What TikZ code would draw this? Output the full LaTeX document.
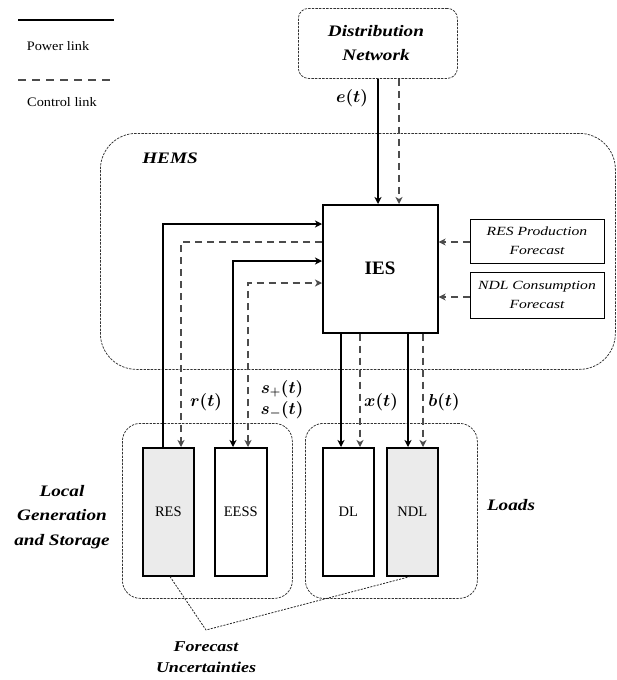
\documentclass[tikz,border=0pt]{standalone}
\usepackage{amsmath}
\usepackage{fontspec}
\setmainfont{Liberation Serif}
\newfontfamily\stretchfam[FakeStretch=1.2]{Liberation Serif}
\newfontfamily\itfam[FakeStretch=1.25]{Liberation Serif}
\newfontfamily\legfam[FakeStretch=1.1]{Liberation Serif}
\usetikzlibrary{arrows.meta,calc}
\tikzset{
  blk/.style={draw, line width=1.6pt, inner sep=0pt, anchor=north west},
  grp/.style={draw, black!80, line width=0.75pt, dash pattern=on 2.4pt off 1.2pt, inner sep=0pt, anchor=north west},
  pw/.style={line width=1.7pt, black},
  ct/.style={line width=1.5pt, black!70, dash pattern=on 7pt off 5pt},
  dotl/.style={line width=0.8pt, black!85, dash pattern=on 2pt off 1.3pt},
  tip/.style={-{Stealth[length=7pt,width=7pt,inset=2pt]}},
  tips/.style={{Stealth[length=7pt,width=7pt,inset=2pt]}-{Stealth[length=7pt,width=7pt,inset=2pt]}},
  bilab/.style={font=\stretchfam\fontsize{16}{24.5}\selectfont\bfseries\itshape, align=center, inner sep=0pt},
  itlab/.style={font=\itfam\fontsize{12.5}{19}\selectfont\itshape, align=center, inner sep=0pt},
  mlab/.style={font=\fontsize{17.5}{20}\selectfont, inner sep=0pt},
  leg/.style={font=\legfam\fontsize{13}{15}\selectfont, inner sep=0pt},
  boxlab/.style={font=\fontsize{14.5}{16}\selectfont, inner sep=0pt}
}
\begin{document}
\begin{tikzpicture}[x=1pt,y=-1pt]
\useasboundingbox (0,0) rectangle (617,680);

% legend
\coordinate (l1a) at (18,20); \coordinate (l1b) at (114,20);
\coordinate (l2a) at (18,80); \coordinate (l2b) at (110,80);
\draw[pw] (l1a) -- (l1b);
\draw[ct, dash pattern=on 8pt off 6pt] (l2a) -- (l2b);
\node[leg] (lpow) at (58,46) {Power link};
\node[leg] (lctl) at (62,102) {Control link};

% containers
\node[grp, rounded corners=10pt, minimum width=159pt, minimum height=70pt] (dn) at (298,8) {};
\node[bilab] (dnl) at (376,43) {Distribution\\Network};
\node[grp, rounded corners=36pt, minimum width=515pt, minimum height=236pt] (hems) at (100,133) {};
\node[bilab] (hemsl) at (170,158) {HEMS};
\node[grp, rounded corners=18pt, minimum width=170pt, minimum height=175pt] (lgs) at (122,423) {};
\node[grp, rounded corners=18pt, minimum width=172pt, minimum height=175pt] (lds) at (305,423) {};

% IES and forecasts
\node[blk, minimum width=115pt, minimum height=128pt] (ies) at (322,204) {};
\node[font=\fontsize{19}{20}\selectfont\bfseries, inner sep=0pt] (iesl) at (380,268) {IES};
\node[draw, line width=1pt, inner sep=0pt, anchor=north west, minimum width=134pt, minimum height=44pt] (rpf) at (470,219) {};
\node[itlab] (rpfl) at (537,241) {RES Production\\Forecast};
\node[draw, line width=1pt, inner sep=0pt, anchor=north west, minimum width=134pt, minimum height=46pt] (ncf) at (470,272) {};
\node[itlab] (ncfl) at (537,295) {NDL Consumption\\Forecast};

% devices
\node[blk, fill=black!8, minimum width=51pt, minimum height=128pt] (res) at (142,447) {};
\node[blk, minimum width=52pt, minimum height=128pt] (eess) at (214,447) {};
\node[blk, minimum width=51pt, minimum height=128pt] (dl) at (322,447) {};
\node[blk, fill=black!8, minimum width=51pt, minimum height=128pt] (ndl) at (386,447) {};
\node[boxlab] at (res.center) {RES};
\node[boxlab] at (eess.center) {EESS};
\node[boxlab] at (dl.center) {DL};
\node[boxlab] at (ndl.center) {NDL};

% helper coordinates
\coordinate (xe) at (378,0);
\coordinate (xec) at (399,0);
\coordinate (xr) at (163,224);
\coordinate (xrc) at (181,242);
\coordinate (xs) at (233,261);
\coordinate (xsc) at (248,283);
\coordinate (xd) at (341,0);
\coordinate (xdc) at (360,0);
\coordinate (xn) at (408,0);
\coordinate (xnc) at (423,0);
\coordinate (yf1) at (0,242);
\coordinate (yf2) at (0,297);
\coordinate (fres) at (170,0);
\coordinate (fndl) at (410,0);
\coordinate (fu) at (206,630);

% connectors
\draw[pw, tip] (dn.south -| xe) -- (ies.north -| xe);
\draw[ct, tip] (dn.south -| xec) -- (ies.north -| xec);
\draw[pw, tip] (res.north -| xr) -- (xr) -- (ies.west |- xr);
\draw[ct, tip] (ies.west |- xrc) -- (xrc) -- (res.north -| xrc);
\draw[pw, tips] (eess.north -| xs) -- (xs) -- (ies.west |- xs);
\draw[ct, tips] (eess.north -| xsc) -- (xsc) -- (ies.west |- xsc);
\draw[pw, tip] (ies.south -| xd) -- (dl.north -| xd);
\draw[ct, tip] (ies.south -| xdc) -- (dl.north -| xdc);
\draw[pw, tip] (ies.south -| xn) -- (ndl.north -| xn);
\draw[ct, tip] (ies.south -| xnc) -- (ndl.north -| xnc);
\draw[ct, tip] (rpf.west |- yf1) -- (ies.east |- yf1);
\draw[ct, tip] (ncf.west |- yf2) -- (ies.east |- yf2);
\draw[dotl] (res.south -| fres) -- (fu) -- (ndl.south -| fndl);

% labels
\node[mlab] (el) at (352,98) {$\boldsymbol{e(t)}$};
\node[mlab] (rl) at (206,402) {$\boldsymbol{r(t)}$};
\node[mlab] (spl) at (282,389) {$\boldsymbol{s_{+}(t)}$};
\node[mlab] (sml) at (282,410) {$\boldsymbol{s_{-}(t)}$};
\node[mlab] (xl) at (381,402) {$\boldsymbol{x(t)}$};
\node[mlab] (bl) at (444,402) {$\boldsymbol{b(t)}$};
\node[bilab] (lgsl) at (62,517) {Local\\Generation\\and Storage};
\node[bilab] (ldsl) at (511,505) {Loads};
\node[bilab, font=\stretchfam\fontsize{15}{21}\selectfont\bfseries\itshape] (ful) at (206,657) {Forecast\\Uncertainties};
\end{tikzpicture}
\end{document}
